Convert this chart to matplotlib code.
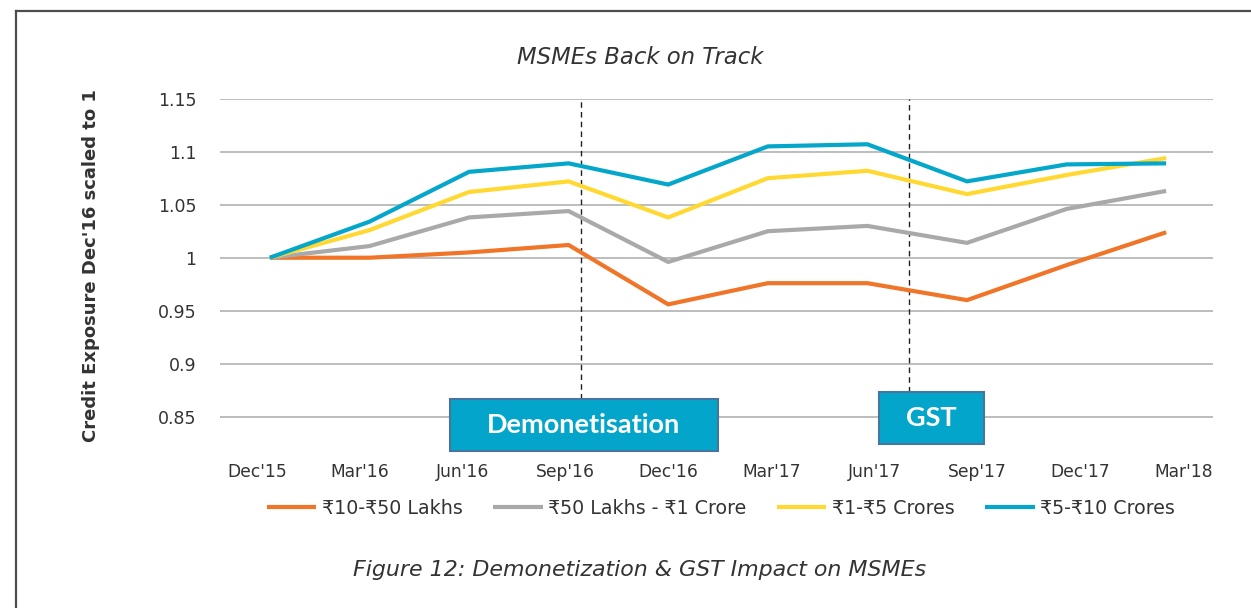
import matplotlib
matplotlib.use("Agg")
import matplotlib.pyplot as plt
from matplotlib.lines import Line2D
from matplotlib.patches import Rectangle

plt.rcParams['font.family'] = ['DejaVu Sans']

# --- data ---
quarters = ["Dec'15", "Mar'16", "Jun'16", "Sep'16", "Dec'16",
            "Mar'17", "Jun'17", "Sep'17", "Dec'17", "Mar'18"]
lakhs_10_50 = [1.000, 1.000, 1.005, 1.012, 0.956, 0.976, 0.976, 0.960, 0.993, 1.024]
lakhs_50_cr1 = [1.000, 1.011, 1.038, 1.044, 0.996, 1.025, 1.030, 1.014, 1.046, 1.063]
crores_1_5 = [1.000, 1.026, 1.062, 1.072, 1.038, 1.075, 1.082, 1.060, 1.078, 1.094]
crores_5_10 = [1.000, 1.034, 1.081, 1.089, 1.069, 1.105, 1.107, 1.072, 1.088, 1.089]
series_names = ["₹10-₹50 Lakhs", "₹50 Lakhs - ₹1 Crore", "₹1-₹5 Crores", "₹5-₹10 Crores"]
colors = ["#F07528", "#A9A9A9", "#FFD932", "#04A6CA"]
yticks = [0.85, 0.9, 0.95, 1, 1.05, 1.1, 1.15]
ytick_labels = ["0.85", "0.9", "0.95", "1", "1.05", "1.1", "1.15"]
events = ["Demonetisation", "GST"]
event_x = [3.12, 6.42]

txt = '#333333'

fig = plt.figure(figsize=(12.51, 6.08), dpi=100)
ax = fig.add_axes([0.1759, 0.25, 0.7937, 0.5877])

x = list(range(len(quarters)))
for vals, name, c in zip([lakhs_10_50, lakhs_50_cr1, crores_1_5, crores_5_10], series_names, colors):
    ax.plot(x, vals, color=c, lw=3.0, label=name, solid_capstyle='butt', zorder=3)

ax.set_xlim(-0.5, 9.47)
ax.set_ylim(0.813, 1.15)
ax.set_yticks(yticks)
ax.set_yticklabels(ytick_labels)
ax.grid(axis='y', color='#B2B2B2', lw=1.2)
ax.set_axisbelow(True)
ax.tick_params(axis='y', length=0, pad=17, labelsize=12.5, labelcolor=txt)
ax.set_xticks([])
for s in ax.spines.values():
    s.set_visible(False)

# category labels (slightly wider spacing than the plotted points)
ax2 = ax.twiny()
ax2.set_xlim(-0.36, 9.29)
ax2.xaxis.set_ticks_position('bottom')
ax2.set_xticks(x)
ax2.set_xticklabels(quarters)
ax2.tick_params(axis='x', length=0, pad=5, labelsize=12.3, labelcolor=txt)
for s in ax2.spines.values():
    s.set_visible(False)

ax.set_ylabel("Credit Exposure Dec'16 scaled to 1", fontsize=13, fontweight='bold', color=txt)
ax.yaxis.set_label_coords(-0.121, 0.532)

# --- event markers ---
box_pos = [(0.2316, 0.0148, 0.2696, 0.1447), (0.6636, 0.0336, 0.1058, 0.1454)]
for ev, xe, (bx, by, bw, bh) in zip(events, event_x, box_pos):
    ax.axvline(xe, ymin=by + bh, ymax=1, color='#222222', lw=1, ls=(0, (4, 3)), zorder=2)
    ax.add_patch(Rectangle((bx, by), bw, bh, transform=ax.transAxes, facecolor='#03A6CA',
                           edgecolor='#4A74A0', lw=1.5, clip_on=False, zorder=5))
    ax.text(bx + bw / 2, by + bh / 2, ev, transform=ax.transAxes, ha='center', va='center',
            fontsize=19.5, fontweight='bold', color='white', family=['Lato', 'DejaVu Sans'], zorder=6)

fig.legend(loc='center', bbox_to_anchor=(0.5763, 1 - 508 / 608), ncol=4, frameon=False,
           fontsize=13.7, handlelength=2.6, handletextpad=0.3, columnspacing=1.6,
           labelcolor=txt)

fig.text(0.5116, 1 - 58 / 608, "MSMEs Back on Track", ha='center', va='center',
         fontsize=16.4, style='italic', color=txt)
fig.text(0.5116, 1 - 570 / 608, "Figure 12: Demonetization & GST Impact on MSMEs",
         ha='center', va='center', fontsize=15.9, style='italic', color=txt)

# page frame
fig.add_artist(Line2D([16 / 1251, 16 / 1251], [0, 1 - 11 / 608], transform=fig.transFigure,
                      color='#4D4D4D', lw=1.6))
fig.add_artist(Line2D([16 / 1251, 1], [1 - 11 / 608, 1 - 11 / 608], transform=fig.transFigure,
                      color='#4D4D4D', lw=1.6))

fig.savefig("out.png", dpi=100)
